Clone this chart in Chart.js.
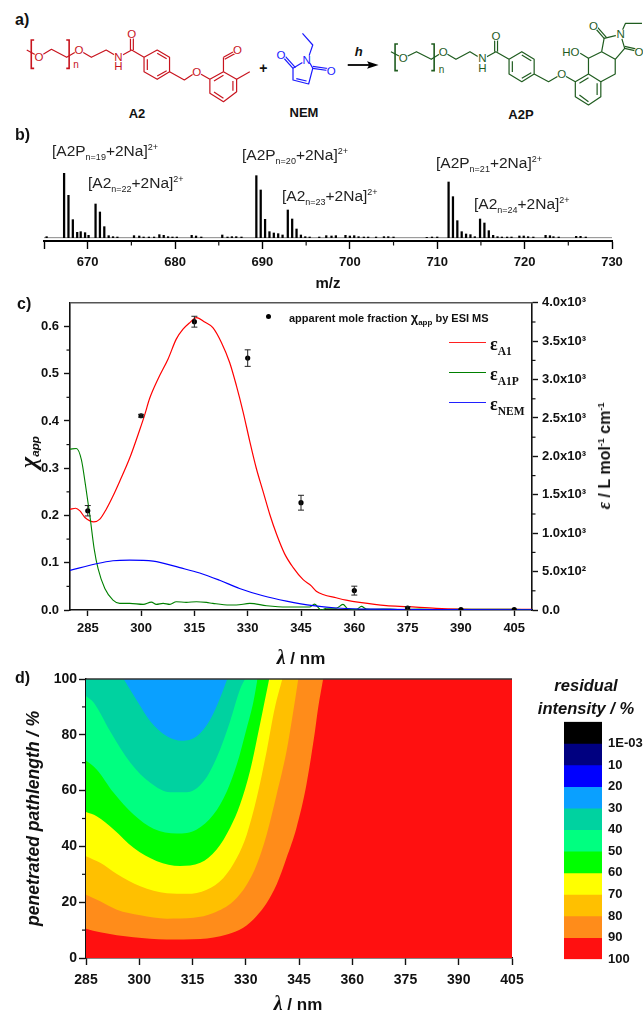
<!DOCTYPE html>
<html><head><meta charset="utf-8">
<script src="https://cdn.jsdelivr.net/npm/chart.js@4"></script>
<style>
html,body{margin:0;padding:0;background:#fff;width:643px;height:1011px;overflow:hidden;font-family:"Liberation Sans",Arial,sans-serif;color:#111}
canvas{position:absolute}
#scheme{position:absolute;left:0;top:0}
.t{position:absolute;white-space:nowrap;line-height:1}
.c{transform:translate(-50%,-50%)}
.r{transform:translate(-50%,-50%) rotate(-90deg)}
.b{font-weight:bold}
.pk{font-size:15.5px;color:#222}
.pk sub,.pk sup{font-size:9px;line-height:0}
.pl{font-weight:bold;font-size:16px}
.leg{position:absolute;height:1.4px;left:449px;width:37px}
.eps{font:bold 18px "Liberation Serif",serif}
.eps sub{font-size:11.5px;line-height:0}
</style></head><body>
<svg id="scheme" width="643" height="125"></svg>
<canvas id="cb" width="643" height="146" style="left:0;top:150px"></canvas>
<canvas id="cc" width="643" height="350" style="left:0;top:290px"></canvas>
<canvas id="cd" width="643" height="330" style="left:0;top:665px"></canvas>
<canvas id="cs" width="88" height="265" style="left:555px;top:708px"></canvas>

<div class="t pl" style="left:15px;top:12px">a)</div>
<div class="t pl" style="left:15px;top:127px">b)</div>
<div class="t pl" style="left:17px;top:296px">c)</div>
<div class="t pl" style="left:15px;top:670px">d)</div>

<div class="t pk" style="left:52px;top:143px">[A2P<sub>n=19</sub>+2Na]<sup>2+</sup></div>
<div class="t pk" style="left:88px;top:175px">[A2<sub>n=22</sub>+2Na]<sup>2+</sup></div>
<div class="t pk" style="left:242px;top:147px">[A2P<sub>n=20</sub>+2Na]<sup>2+</sup></div>
<div class="t pk" style="left:282px;top:188px">[A2<sub>n=23</sub>+2Na]<sup>2+</sup></div>
<div class="t pk" style="left:436px;top:155px">[A2P<sub>n=21</sub>+2Na]<sup>2+</sup></div>
<div class="t pk" style="left:474px;top:196px">[A2<sub>n=24</sub>+2Na]<sup>2+</sup></div>

<div class="t" style="left:265.5px;top:314px;width:5px;height:5px;border-radius:50%;background:#000"></div>
<div class="t b" style="left:289px;top:311px;font-size:11px">apparent mole fraction <span style="font-size:13px">χ</span><sub style="font-size:8px;line-height:0">app</sub> by ESI MS</div>
<div class="leg" style="top:341.5px;background:#ff2020"></div>
<div class="leg" style="top:371.5px;background:#008000"></div>
<div class="leg" style="top:402px;background:#2020ff"></div>
<div class="t eps" style="left:490px;top:334px">ε<sub>A1</sub></div>
<div class="t eps" style="left:490px;top:364px">ε<sub>A1P</sub></div>
<div class="t eps" style="left:490px;top:394px">ε<sub>NEM</sub></div>

<div class="t c b" style="left:301px;top:657px;font-size:17px"><i style="font-family:'Liberation Serif',serif;font-size:20px">λ</i> / nm</div>
<div class="t r b" style="left:28px;top:452px;font-size:14px;font-style:italic"><span style="font:bold italic 24px 'Liberation Serif',serif">χ</span><sub style="line-height:0">app</sub></div>
<div class="t r b" style="left:604px;top:456px;font-size:16px"><i style="font-family:'Liberation Serif',serif;font-size:18px">ε</i> / L mol<sup style="font-size:9px;line-height:0">-1</sup> cm<sup style="font-size:9px;line-height:0">-1</sup></div>
<div class="t c b" style="left:298px;top:1003px;font-size:17px"><i style="font-family:'Liberation Serif',serif;font-size:20px">λ</i> / nm</div>
<div class="t c b" style="left:586px;top:685px;font-size:16.5px;font-style:italic">residual</div>
<div class="t c b" style="left:586px;top:708px;font-size:16.5px;font-style:italic">intensity / %</div>

<script>
// ---------- panel b: ESI mass spectrum ----------
const msMz = [665.3,667.3,667.8,668.3,668.8,669.2,669.7,670.1,670.9,671.4,671.9,672.4,672.9,673.4,675.3,675.9,676.4,677,677.6,678.2,678.7,679.2,679.7,680.2,681.9,682.4,683,685.4,686,686.5,687,687.6,689.3,689.8,690.3,690.8,691.3,691.8,692.3,692.9,693.4,693.9,694.4,694.9,695.4,696.5,697.3,697.9,698.4,699.5,700,700.5,701,701.6,702.1,703,703.9,704.4,705,708.8,709.4,710,711.3,711.8,712.3,712.8,713.3,713.8,714.3,714.9,715.4,715.9,716.4,716.9,717.4,718,718.5,719.4,719.9,720.4,721,722.4,722.9,723.3,723.9,725.9,726.4,727];
const msInt = [3,193,127,54,16,18,15,7,101,77,33,6,3,2,6,5,2,2,2,9,7,3,2,2,7,5,2,8,2,3,3,2,186,143,55,18,14,12,8,83,56,26,8,3,2,2,6,5,6,7,5,6,3,2,2,2,3,3,2,1,2,2,167,123,51,18,11,9,3,56,44,21,7,3,2,2,2,5,5,3,2,7,6,3,2,4,4,2];
const msBaselineMz = [665,730];
const msBaselineInt = [0,0];
const mzMajor = [665,670,680,690,700,710,720,730];
const mzMinor = [675,685,695,705,715,725];

// ---------- panel c: spectra and mole fraction ----------
const redNm = [280,281.6,282.8,284.2,285.6,286.7,288.4,290.2,292.1,294,296.8,299.6,301,302.4,304.8,307.6,309.9,311.8,313.5,315.6,317.9,320.2,322.6,324.9,326.8,328.7,330.6,332.4,334.3,336.2,338.1,340.4,342.7,345.6,347.9,349.3,351.2,354.9,357.7,361.5,369,375,383,390,405,410];
const redEps = [1310,1325,1290,1204,1161,1148,1183,1312,1484,1677,1978,2344,2538,2753,3011,3269,3527,3656,3733,3806,3750,3677,3484,3226,2925,2581,2193,1849,1548,1247,989,731,559,396,314,245,202,159,129,99,56,43,22,13,9,9];
const greenNm = [280,281.8,283.2,284.4,285.6,286.8,287.9,289.8,292.1,294,296.8,300.6,302.9,304.3,306.2,308.1,309.9,312.7,315.6,318.4,320.2,324.9,326.8,330.6,335.3,340.9,347.4,348.8,350.7,352.1,354.9,356.8,358.2,360.6,362,363.4,366,370,372.7,378.4,383,389.6,395,404.6,410];
const greenEps = [2095,2103,1957,1613,1226,796,538,280,129,86,86,73,103,73,86,73,108,99,108,99,86,65,65,86,56,39,39,77,0,22,22,73,17,9,47,13,9,13,4,13,4,9,9,9,4];
const blueNm = [280,287.4,292.1,296.8,303.4,310.9,316.5,322.1,327.7,334.3,340.9,348.4,354.9,361.5,366,378,410];
const blueEps = [516,602,641,649,637,551,482,387,280,185,116,56,26,13,11,4,2];
const chiNm = [285,300,315,330,345,360,375,390,405];
const chiVal = [0.21,0.411,0.61,0.533,0.227,0.041,0.004,0.001,0.001];
const chiErr = [0.011,0.003,0.0115,0.0175,0.0157,0.0094,0.003,0,0];
const lambdaTicks = [285,300,315,330,345,360,375,390,405];
const chiTicks = [0,0.1,0.2,0.3,0.4,0.5,0.6];
const chiMinor = [0.05,0.15,0.25,0.35,0.45,0.55];
const epsTicks = [0,500,1000,1500,2000,2500,3000,3500,4000];
const epsMinor = [250,750,1250,1750,2250,2750,3250,3750];

// ---------- panel d: contour boundaries (λ, pathlength) ----------
const c100nm = [285,405];            const c100 = [0,0];
const c90nm = [285,289,298.4,307.7,317.2,324.7,329.3,333,335.9,338.7,341.5,344.3,347.1,349.5,350.4,351.8];
const c90 = [10.5,9.2,7.4,6.6,6.8,8.4,10.8,15,19.7,26.3,35.9,46.7,62.2,81.3,89.7,100];
const c80nm = [285,289,293.7,300.3,307.8,315.3,320.9,326.5,330.3,333.1,335.9,338.7,341.5,343.4,344.8];
const c80 = [22.7,20.3,17.3,15.3,14.1,14.4,16.1,20.3,26.3,33.5,44.3,58.6,74.2,88.5,100];
const c70nm = [285,289,293.7,300.3,307.8,313.4,319,323.7,327.5,330.3,333.1,335.9,338.2,340.3];
const c70 = [36.5,34.1,30.1,25.7,23.2,23,24.5,28.7,35.9,44.3,57.4,74.2,89.7,100];
const c60nm = [285,288,292.8,298.4,305,311.5,317.2,321.8,325.6,328.4,331.2,334,336.6];
const c60 = [52.3,50.8,46.1,39.5,34.7,33,34.1,38.9,46.7,55,67,83.7,100];
const c50nm = [285,288,292.8,298.4,304,310.6,316.2,320.9,324.7,327.5,330.3,332.2,333.3];
const c50 = [70.8,67.6,59.2,51.4,46.3,44.6,46.1,51.4,59.8,69.4,82.5,92.1,100];
const c40nm = [285,287.2,291.8,297.5,303.1,308.7,313.4,318.2,321.8,325.6,328.4,329.8];
const c40 = [93.9,91.5,81.3,70,62.8,59.4,59.4,63.4,71.8,84.9,96.3,100];
const c30nm = [295.6,299.4,303.1,307.8,312,316.2,320,322.8,324.8];
const c30 = [100,92.1,84.9,79.5,77.9,79.5,85.5,93.3,100];
const pathTicks = [0,20,40,60,80,100];
const pathMinor = [10,30,50,70,90];
const lambdaD = [285,300,315,330,345,360,375,390,405];

// ---------- colour bar ----------
const bandLabels = ['1E-03','10','20','30','40','50','60','70','80','90','100'];
const bandLow  = [-10,0,10,20,30,40,50,60,70,80,90];
const bandHigh = [0,10,20,30,40,50,60,70,80,90,100];
const bandColor = ['#000000','#000080','#0000ff','#0aa0ff','#00d2a0','#00ff80','#00ff00','#ffff00','#ffc000','#ff8c1a','#ff1010'];
const barTicks = [0,10,20,30,40,50,60,70,80,90,100];

const INK='#111';
const pts=(xs,ys)=>xs.map((x,i)=>({x,y:ys[i]}));
const tickFont=s=>({family:'"Liberation Sans",Arial,sans-serif',size:s,weight:'bold'});
function fixedTicks(vals){return s=>{s.ticks=vals.map(value=>({value}));};}
function axis(extra,len){
  return Object.assign({
    border:{display:true,color:INK,width:1.6},
    grid:{display:true,drawOnChartArea:false,drawTicks:true,tickLength:len||6,tickWidth:1.4,tickColor:INK},
  },extra);
}
function extras(minors,topColor,err){
  return {id:'extras',afterDatasetsDraw(ch){
    const c=ch.ctx,a=ch.chartArea;
    c.save();
    if(err){
      const sx=ch.scales.x,sy=ch.scales.y;
      err.x.forEach((x,i)=>{ if(!err.e[i])return;
        const px=sx.getPixelForValue(x),hi=sy.getPixelForValue(err.v[i]+err.e[i]),lo=sy.getPixelForValue(err.v[i]-err.e[i]);
        c.strokeStyle='#222';c.lineWidth=1;c.beginPath();
        c.moveTo(px,hi);c.lineTo(px,lo);c.moveTo(px-3,hi);c.lineTo(px+3,hi);c.moveTo(px-3,lo);c.lineTo(px+3,lo);c.stroke();});
    }
    c.strokeStyle=INK;c.lineWidth=1.2;
    minors.forEach(m=>{const s=ch.scales[m.id];m.vals.forEach(v=>{
      const p=s.getPixelForValue(v);c.beginPath();
      if(m.dir==='left'){c.moveTo(s.right,p);c.lineTo(s.right-m.len,p);}
      else if(m.dir==='right'){c.moveTo(s.left,p);c.lineTo(s.left+m.len,p);}
      else{c.moveTo(p,s.top);c.lineTo(p,s.top+m.len);}
      c.stroke();});});
    if(topColor){c.strokeStyle=topColor;c.lineWidth=1.6;c.beginPath();c.moveTo(a.left,a.top);c.lineTo(a.right,a.top);c.stroke();}
    c.restore();
  }};
}

// ---- panel b
new Chart(document.getElementById('cb'),{
  data:{datasets:[
    {type:'line',data:pts(msBaselineMz,msBaselineInt),borderColor:'#8a8a8a',borderWidth:1,pointRadius:0,order:2},
    {type:'bar',data:pts(msMz,msInt),backgroundColor:'#000',barThickness:1.6,order:1},
  ]},
  options:{responsive:false,animation:false,
    layout:{autoPadding:false,padding:{left:44,right:31,top:10,bottom:0}},
    plugins:{legend:{display:false},tooltip:{enabled:false}},
    scales:{
      x:axis({type:'linear',min:665,max:730,offset:false,
        border:{display:true,color:'#000',width:2},
        grid:{display:true,offset:false,drawOnChartArea:false,drawTicks:true,tickLength:8,tickWidth:1.4,tickColor:'#000'},
        afterBuildTicks:fixedTicks(mzMajor),
        ticks:{font:tickFont(13),color:INK,padding:6,autoSkip:false,maxRotation:0,callback:v=>v===665?'':String(v)},
        title:{display:true,text:'m/z',font:{family:'"Liberation Sans",Arial,sans-serif',size:15,weight:'bold'},color:INK,padding:{top:0,bottom:3}},
        afterFit(s){s.height=55;}
      }),
      y:{display:false,min:-10,max:233}
    }
  },
  plugins:[extras([{id:'x',vals:mzMinor,len:4.5,dir:'down'}])]
});

// ---- panel c
new Chart(document.getElementById('cc'),{
  type:'line',
  data:{datasets:[
    {data:pts(chiNm,chiVal),yAxisID:'y',showLine:false,pointRadius:2.6,pointBackgroundColor:'#000',pointBorderWidth:0,order:1},
    {data:pts(blueNm,blueEps),yAxisID:'y1',borderColor:'#0000ff',borderWidth:1.2,pointRadius:0,cubicInterpolationMode:'monotone',order:2},
    {data:pts(greenNm,greenEps),yAxisID:'y1',borderColor:'#008000',borderWidth:1.1,pointRadius:0,cubicInterpolationMode:'monotone',order:3},
    {data:pts(redNm,redEps),yAxisID:'y1',borderColor:'#ff0000',borderWidth:1.2,pointRadius:0,cubicInterpolationMode:'monotone',order:4},
  ]},
  options:{responsive:false,animation:false,
    layout:{autoPadding:false,padding:{left:0,right:0,top:10,bottom:0}},
    plugins:{legend:{display:false},tooltip:{enabled:false}},
    scales:{
      x:axis({type:'linear',min:280,max:410,afterBuildTicks:fixedTicks(lambdaTicks),
        ticks:{font:tickFont(13),color:INK,padding:5,autoSkip:false,maxRotation:0,callback:v=>String(v)},
        afterFit(s){s.height=30;}}),
      y:axis({position:'left',min:0,max:0.65,afterBuildTicks:fixedTicks(chiTicks),
        ticks:{font:tickFont(13),color:INK,padding:5,callback:v=>v.toFixed(1)},
        afterFit(s){s.width=70;}}),
      y1:axis({position:'right',min:0,max:4000,afterBuildTicks:fixedTicks(epsTicks),
        ticks:{font:tickFont(13),color:INK,padding:4,callback:v=>v===0?'0.0':(v>=1000?(v/1000).toFixed(1)+'x10³':(v/100).toFixed(1)+'x10²')},
        afterFit(s){s.width=111;}})
    }
  },
  plugins:[extras([
    {id:'y',vals:chiMinor,len:3.5,dir:'left'},
    {id:'y1',vals:epsMinor,len:3.5,dir:'right'}
  ],'#555',{x:chiNm,v:chiVal,e:chiErr})]
});

// ---- panel d
const band=(xs,ys,color,order)=>({data:pts(xs,ys),borderWidth:0,borderColor:color,backgroundColor:color,pointRadius:0,fill:'end',cubicInterpolationMode:'monotone',order});
new Chart(document.getElementById('cd'),{
  type:'line',
  data:{datasets:[
    band(c100nm,c100,bandColor[10],8),
    band(c90nm,c90,bandColor[9],7),
    band(c80nm,c80,bandColor[8],6),
    band(c70nm,c70,bandColor[7],5),
    band(c60nm,c60,bandColor[6],4),
    band(c50nm,c50,bandColor[5],3),
    band(c40nm,c40,bandColor[4],2),
    band(c30nm,c30,bandColor[3],1),
  ]},
  options:{responsive:false,animation:false,
    layout:{autoPadding:false,padding:{left:0,right:131,top:14,bottom:0}},
    plugins:{legend:{display:false},tooltip:{enabled:false},filler:{propagate:false}},
    scales:{
      x:axis({type:'linear',min:285,max:405,afterBuildTicks:fixedTicks(lambdaD),
        ticks:{font:tickFont(14),color:INK,padding:7,autoSkip:false,maxRotation:0,callback:v=>String(v)},
        afterFit(s){s.height=37;}},7),
      y:axis({position:'left',min:0,max:100,afterBuildTicks:fixedTicks(pathTicks),
        ticks:{font:tickFont(14),color:INK,padding:2,callback:v=>String(v)},
        title:{display:true,text:'penetrated pathlength / %',color:INK,font:{family:'"Liberation Sans",Arial,sans-serif',size:17.6,weight:'bold',style:'italic'},padding:{top:24,bottom:0}},
        afterFit(s){s.width=86;}},7)
    }
  },
  plugins:[extras([{id:'y',vals:pathMinor,len:4,dir:'left'}],'#333')]
});

// ---- colour bar
new Chart(document.getElementById('cs'),{
  type:'bar',
  data:{labels:['scale'],datasets:bandLabels.map((l,i)=>({label:l,data:[[bandLow[i],bandHigh[i]]],backgroundColor:bandColor[i],barPercentage:1,categoryPercentage:1,borderWidth:0}))},
  options:{responsive:false,animation:false,
    layout:{autoPadding:false,padding:{left:9,right:0,top:10,bottom:0}},
    plugins:{legend:{display:false},tooltip:{enabled:false}},
    scales:{
      x:{stacked:true,display:false},
      y:{position:'right',reverse:true,min:-10,max:100,border:{display:false},grid:{display:false,drawTicks:false},
        afterBuildTicks:fixedTicks(barTicks),
        ticks:{font:tickFont(13),color:INK,padding:6,callback:v=>bandLabels[barTicks.indexOf(v)]},
        afterFit(s){s.width=41;s.height=240;}}
    }
  }
});

// ---------- panel a: reaction scheme, drawn in SVG ----------
const NS='http://www.w3.org/2000/svg', svg=document.getElementById('scheme');
const X=x=>x/2.43, Y=y=>y/3;
function el(n,a,txt){const e=document.createElementNS(NS,n);for(const k in a)e.setAttribute(k,a[k]);if(txt)e.textContent=txt;svg.appendChild(e);return e;}
function chain(p,col,w){el('polyline',{points:p.map(q=>X(q[0])+','+Y(q[1])).join(' '),fill:'none',stroke:col,'stroke-width':w||1.2,'stroke-linejoin':'round'});}
function dbl(a,b,col,dx,dy){chain([a,b],col);chain([[a[0]+dx,a[1]+dy],[b[0]+dx,b[1]+dy]],col);}
function atom(t,x,y,col,s){
  el('circle',{cx:X(x),cy:Y(y),r:t.length>1?8:5,fill:'#fff'});
  el('text',{x:X(x),y:Y(y),fill:col,'font-size':s||11.5,'text-anchor':'middle','dominant-baseline':'central','font-family':'Liberation Sans'},t);}
function bracket(x,y1,y2,dir,col){el('polyline',{points:[[X(x+dir*7),Y(y1)],[X(x),Y(y1)],[X(x),Y(y2)],[X(x+dir*7),Y(y2)]].join(' '),fill:'none',stroke:col,'stroke-width':1.6});}
const RED='#c8141e',BLU='#1a1aff',GRN='#1f5c1f';

// A2
chain([[65,150],[95,170],[125,148],[162,172],[192,150],[222,172],[258,150],[288,172],[320,150],[350,172]],RED);
dbl([317,150],[317,102],RED,7,0);
chain([[350,172],[382,150],[412,172],[412,215],[382,238],[350,215],[350,172]],RED);
chain([[358,178],[358,210]],RED);chain([[382,160],[405,176]],RED);chain([[382,228],[405,212]],RED);
chain([[412,215],[448,240],[478,215],[510,238],[543,215],[575,238],[575,275],[543,305],[510,280],[510,238]],RED);
chain([[520,243],[543,226]],RED);chain([[566,243],[566,272]],RED);chain([[520,276],[543,295]],RED);
chain([[543,215],[543,172]],RED);dbl([543,172],[575,150],RED,3,6);
chain([[575,238],[607,215]],RED);
bracket(76,120,205,1,RED);bracket(168,120,205,-1,RED);
atom('O',95,170,RED);atom('O',192,150,RED);atom('N',288,170,RED);atom('H',288,197,RED);atom('O',320,102,RED);atom('O',478,215,RED);atom('O',577,150,RED);
el('text',{x:X(178),y:Y(204),fill:RED,'font-size':10,'text-anchor':'start','font-family':'Liberation Sans'},'n');

// plus, NEM
el('text',{x:X(640),y:Y(203),fill:'#111','font-size':14,'font-weight':'bold','text-anchor':'middle','dominant-baseline':'central','font-family':'Liberation Sans'},'+');
chain([[735,100],[760,135],[748,178]],BLU);
chain([[748,178],[712,205],[712,240],[750,252],[760,205],[748,178]],BLU);
chain([[720,236],[745,243]],BLU);
dbl([712,205],[683,165],BLU,6,-2);dbl([760,205],[805,213],BLU,0,-6);
atom('N',745,180,BLU);atom('O',683,165,BLU);atom('O',805,213,BLU);

// arrow
chain([[845,195],[905,195]],'#000',1.8);
el('polygon',{points:[[X(920),Y(195)],[X(892),Y(184)],[X(897),Y(195)],[X(892),Y(206)]].join(' '),fill:'#000'});
el('text',{x:X(872),y:Y(155),fill:'#111','font-size':13,'font-weight':'bold','font-style':'italic','text-anchor':'middle','dominant-baseline':'central','font-family':'Liberation Sans'},'h');

// A2P
chain([[950,155],[980,175],[1012,155],[1048,178],[1077,155],[1108,178],[1142,155],[1172,178],[1205,155],[1237,178]],GRN);
dbl([1202,155],[1202,108],GRN,7,0);
chain([[1237,178],[1268,155],[1298,178],[1298,222],[1268,245],[1237,222],[1237,178]],GRN);
chain([[1245,184],[1245,216]],GRN);chain([[1268,165],[1291,182]],GRN);chain([[1268,235],[1291,218]],GRN);
chain([[1298,222],[1333,245],[1365,222],[1398,245],[1430,222],[1460,245],[1460,290],[1430,315],[1398,290],[1398,245]],GRN);
chain([[1408,250],[1430,233]],GRN);chain([[1451,250],[1451,285]],GRN);chain([[1408,285],[1430,305]],GRN);
chain([[1430,222],[1430,175],[1462,155],[1495,178],[1495,222],[1460,245]],GRN);
chain([[1430,175],[1410,160]],GRN);
chain([[1462,155],[1468,115],[1508,103],[1518,145],[1495,178]],GRN);
chain([[1508,103],[1520,70],[1560,70]],GRN);
dbl([1468,115],[1442,78],GRN,6,-2);dbl([1518,145],[1553,155],GRN,0,-6);
bracket(960,132,212,1,GRN);bracket(1055,132,212,-1,GRN);
atom('O',980,175,GRN);atom('O',1077,155,GRN);atom('N',1172,175,GRN);atom('H',1172,205,GRN);atom('O',1205,108,GRN);atom('O',1365,222,GRN);atom('HO',1387,155,GRN);atom('N',1508,103,GRN);atom('O',1442,78,GRN);atom('O',1553,155,GRN);
el('text',{x:X(1066),y:Y(219),fill:GRN,'font-size':10,'text-anchor':'start','font-family':'Liberation Sans'},'n');

[['A2',137,113],['NEM',304,112],['A2P',521,114]].forEach(l=>el('text',{x:l[1],y:l[2],fill:'#111','font-size':13,'font-weight':'bold','text-anchor':'middle','dominant-baseline':'central','font-family':'Liberation Sans'},l[0]));
</script>
</body></html>
